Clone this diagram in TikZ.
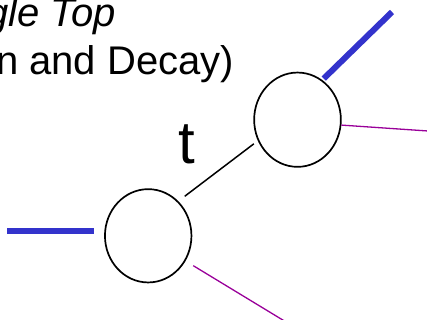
\documentclass[tikz,border=0pt]{standalone}
\usepackage{fontspec}
\setmainfont{Liberation Sans}
\usetikzlibrary{shapes.geometric}
\definecolor{lineblue}{HTML}{3333CC}
\definecolor{linepurple}{HTML}{990099}
\begin{document}
\begin{tikzpicture}[x=1pt,y=-1pt,
  vertex/.style={draw=black, line width=1.7pt, ellipse, inner sep=0pt},
  titletext/.style={anchor=base, inner sep=0pt, font=\fontsize{40}{48}\selectfont},
  quark/.style={line width=6pt, draw=lineblue},
  wline/.style={line width=1.3pt, draw=linepurple},
  prop/.style={line width=1.5pt, draw=black}]
\clip (0,0) rectangle (427,320);
\node[titletext, font=\fontsize{40}{48}\selectfont\itshape] (t1) at (22,27) {Single Top};
\node[titletext] (t2) at (24,75) {(Production and Decay)};
\node[vertex, minimum width=86.5pt, minimum height=93.3pt] (lo) at (148.2,235.8) {};
\node[vertex, minimum width=86.7pt, minimum height=94.3pt] (up) at (297.5,119.7) {};
\coordinate (bl) at (7,230.8);
\coordinate (ub) at (392,12);
\coordinate (pl) at (284.4,321);
\coordinate (pu) at (428,131);
\draw[quark, shorten >=10pt] (bl) -- (bl -| lo.west);
\draw[quark, shorten <=2pt] (up.58) -- (ub);
\draw[prop, shorten <=8pt, shorten >=5pt] (lo.49) -- (up.208);
\draw[wline, shorten <=9pt] (lo.-34) -- (pl);
\draw[wline] (up.-7) -- (pu);
\node[anchor=base, inner sep=0pt, font=\fontsize{60}{64}\selectfont] (t) at (186.5,164) {t};
\end{tikzpicture}
\end{document}
